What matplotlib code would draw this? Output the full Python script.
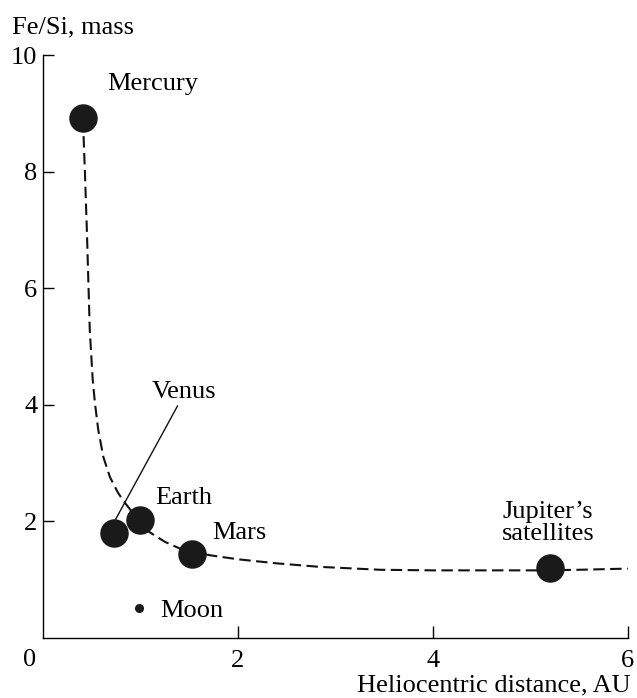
import matplotlib
matplotlib.use("Agg")
import matplotlib.pyplot as plt

plt.rcParams['font.family'] = ['Liberation Serif', 'DejaVu Serif']

# bodies: heliocentric distance (AU) and Fe/Si mass ratio
bodies = ["Mercury", "Venus", "Earth", "Mars", "Jupiter\u2019s\nsatellites"]
dist = [0.41, 0.73, 1.0, 1.53, 5.2]
fesi = [8.93, 1.80, 2.02, 1.44, 1.20]

moon_dist = [0.99]
moon_fesi = [0.52]

# dashed trend curve
curve_x = [0.41, 0.43, 0.45, 0.465, 0.48, 0.51, 0.533, 0.567, 0.62, 0.687,
           0.77, 0.84, 0.92, 1.0, 1.08, 1.25, 1.41, 1.71, 2.0, 2.4, 2.84, 3.46,
           4.0, 4.5, 5.07, 5.5, 6.0]
curve_y = [8.9, 8.0, 7.0, 6.14, 5.28, 4.43, 4.03, 3.57, 3.10, 2.76,
           2.49, 2.32, 2.15, 2.0, 1.83, 1.65, 1.53, 1.42, 1.35, 1.28, 1.22, 1.17,
           1.16, 1.16, 1.16, 1.17, 1.19]

fig = plt.figure(figsize=(6.37, 6.98), dpi=100)
ax = fig.add_axes([0.0675, 0.086, 0.918, 0.835])

ax.plot(curve_x, curve_y, ls=(0, (5.5, 2.6)), color='#111111', lw=1.5, zorder=1)
ax.plot(dist, fesi, 'o', ms=19.5, color='#1a1a1a', zorder=3)
ax.plot(moon_dist, moon_fesi, 'o', ms=5.5, color='#1a1a1a', zorder=3)

fs = 19
ax.text(0.66, 9.5, bodies[0], fontsize=fs, va='center', ha='left')
ax.text(1.45, 4.22, bodies[1], fontsize=fs, va='center', ha='center')
ax.plot([1.38, 0.74], [3.98, 2.02], color='#111111', lw=1.0, zorder=2)
ax.text(1.15, 2.4, bodies[2], fontsize=fs, va='center', ha='left')
ax.text(1.74, 1.8, bodies[3], fontsize=fs, va='center', ha='left')
ax.text(5.18, 1.97, bodies[4], fontsize=fs, va='center', ha='center',
        linespacing=1.0)
ax.text(1.2, 0.47, "Moon", fontsize=fs, va='center', ha='left')

ax.set_xlim(0, 6)
ax.set_ylim(0, 10)
ax.set_xticks([2, 4, 6])
ax.set_yticks([2, 4, 6, 8, 10])
ax.tick_params(direction='in', labelsize=fs, width=1, length=9, pad=9)
ax.tick_params(axis='y', length=8, pad=4)
for s in ['top', 'right']:
    ax.spines[s].set_visible(False)
for s in ['left', 'bottom']:
    ax.spines[s].set_linewidth(1.0)

ax.text(-0.14, -0.38, "0", fontsize=fs, ha='center', va='center', clip_on=False)
ax.text(-0.32, 10.47, "Fe/Si, mass", fontsize=fs, ha='left', va='center', clip_on=False)
ax.text(6.03, -0.82, "Heliocentric distance, AU", fontsize=fs, ha='right', va='center',
        clip_on=False)

fig.savefig("out.png", dpi=100)
